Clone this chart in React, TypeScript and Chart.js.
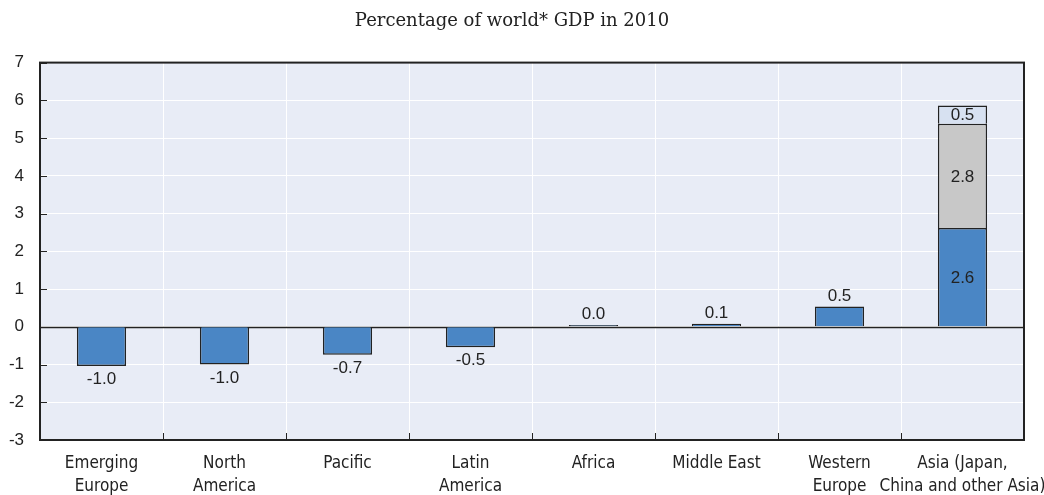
import React, { useEffect, useRef } from "react";
import { Chart, registerables } from "chart.js";

Chart.register(...registerables);

const categories: string[][] = [
  ["Emerging", "Europe"],
  ["North", "America"],
  ["Pacific"],
  ["Latin", "America"],
  ["Africa"],
  ["Middle East"],
  ["Western", "Europe"],
  ["Asia (Japan,", "China and other Asia)"],
];
const mainValues: (number | null)[] = [-1.04, -1.0, -0.74, -0.54, 0.045, 0.08, 0.54, 2.62];
const greyValues: (number | null)[] = [null, null, null, null, null, null, null, 2.76];
const lightValues: (number | null)[] = [null, null, null, null, null, null, null, 0.48];
const yTicks: number[] = [-3, -2, -1, 0, 1, 2, 3, 4, 5, 6, 7];
const titleText = "Percentage of world* GDP in 2010";

const BG = "#e8ecf6";
const DARK = "#222222";

const framePlugin = {
  id: "frame",
  beforeDraw(chart: any) {
    const { ctx, chartArea } = chart;
    ctx.save();
    ctx.fillStyle = BG;
    ctx.fillRect(chartArea.left, chartArea.top, chartArea.right - chartArea.left, chartArea.bottom - chartArea.top);
    ctx.restore();
  },
  beforeDatasetsDraw(chart: any) {
    const { ctx, chartArea, scales } = chart;
    ctx.save();
    ctx.strokeStyle = DARK;
    ctx.lineWidth = 1;
    yTicks.forEach((v) => {
      const y = Math.round(scales.y.getPixelForValue(v)) + 0.5;
      ctx.beginPath();
      ctx.moveTo(chartArea.left, y);
      ctx.lineTo(chartArea.left + 7, y);
      ctx.stroke();
    });
    const n = categories.length;
    const w = (chartArea.right - chartArea.left) / n;
    for (let i = 1; i < n; i++) {
      const x = Math.round(chartArea.left + w * i) + 0.5;
      ctx.beginPath();
      ctx.moveTo(x, chartArea.bottom);
      ctx.lineTo(x, chartArea.bottom - 7);
      ctx.stroke();
    }
    const y0 = Math.round(scales.y.getPixelForValue(0)) + 0.5;
    ctx.lineWidth = 1.5;
    ctx.beginPath();
    ctx.moveTo(chartArea.left, y0);
    ctx.lineTo(chartArea.right, y0);
    ctx.stroke();
    ctx.restore();
  },
  afterDraw(chart: any) {
    const { ctx, chartArea } = chart;
    ctx.save();
    ctx.strokeStyle = DARK;
    ctx.lineWidth = 2;
    ctx.strokeRect(chartArea.left, chartArea.top, chartArea.right - chartArea.left, chartArea.bottom - chartArea.top);
    ctx.restore();
  },
};

const labelPlugin = {
  id: "valueLabels",
  afterDatasetsDraw(chart: any) {
    const { ctx } = chart;
    ctx.save();
    ctx.font = "17px 'Liberation Sans', Arial, sans-serif";
    ctx.fillStyle = DARK;
    ctx.textAlign = "center";
    chart.data.datasets.forEach((ds: any, di: number) => {
      const meta = chart.getDatasetMeta(di);
      meta.data.forEach((bar: any, i: number) => {
        const v = ds.data[i];
        if (v === null || v === undefined) return;
        const txt = v.toFixed(1);
        const stacked = greyValues[i] !== null;
        if (stacked) {
          ctx.textBaseline = "middle";
          ctx.fillText(txt, bar.x, (bar.y + bar.base) / 2 + 1);
        } else if (v < 0) {
          ctx.textBaseline = "top";
          ctx.fillText(txt, bar.x, bar.y + 5);
        } else {
          ctx.textBaseline = "bottom";
          ctx.fillText(txt, bar.x, bar.y - 2);
        }
      });
    });
    ctx.restore();
  },
};

export default function App() {
  const ref = useRef<HTMLCanvasElement>(null);
  useEffect(() => {
    document.body.style.margin = "0";
    const chart = new Chart(ref.current as HTMLCanvasElement, {
      type: "bar",
      data: {
        labels: categories,
        datasets: [
          { data: mainValues, backgroundColor: "#4a86c5", borderColor: DARK, borderWidth: 1.5, stack: "s" },
          { data: greyValues, backgroundColor: "#c8c8c8", borderColor: DARK, borderWidth: 1.5, stack: "s" },
          { data: lightValues, backgroundColor: "#d7e1f1", borderColor: DARK, borderWidth: 1.5, stack: "s" },
        ],
      },
      options: {
        animation: false,
        responsive: false,
        maintainAspectRatio: false,
        layout: { padding: { left: 0, right: 20, top: 0, bottom: 0 } },
        datasets: { bar: { barPercentage: 0.4, categoryPercentage: 1 } },
        plugins: {
          legend: { display: false },
          tooltip: { enabled: false },
          title: {
            display: true,
            text: titleText,
            color: DARK,
            font: { family: "'DejaVu Serif', serif", size: 18, weight: "normal" },
            padding: { top: 11, bottom: 30 },
          },
        },
        scales: {
          x: {
            stacked: true,
            grid: { color: "#ffffff", lineWidth: 1, drawTicks: false, offset: true },
            border: { display: false },
            ticks: {
              color: DARK,
              font: { family: "'DejaVu Sans Condensed', 'Liberation Sans Narrow', 'Liberation Sans', sans-serif", size: 17, lineHeight: 1.35 },
              padding: 12,
              maxRotation: 0,
              autoSkip: false,
            },
            afterFit: (s: any) => {
              s.height = 55;
              s.paddingLeft = 0;
              s.paddingRight = 0;
            },
          },
          y: {
            stacked: true,
            min: -3,
            max: 7,
            ticks: {
              stepSize: 1,
              color: DARK,
              font: { family: "'Liberation Sans', Arial, sans-serif", size: 17 },
              padding: 16,
            },
            grid: { color: "#ffffff", lineWidth: 1, drawTicks: false },
            border: { display: false },
            afterFit: (s: any) => {
              s.width = 40;
              s.paddingTop = 0;
              s.paddingBottom = 0;
            },
          },
        },
      },
      plugins: [framePlugin, labelPlugin],
    });
    return () => chart.destroy();
  }, []);
  return (
    <div style={{ width: 1044, height: 495 }}>
      <canvas ref={ref} width={1044} height={495} style={{ display: "block" }} />
    </div>
  );
}
